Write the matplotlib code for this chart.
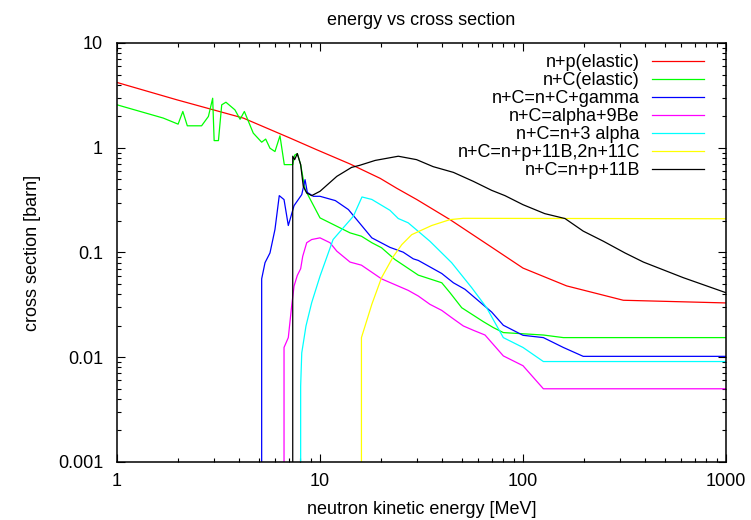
import matplotlib
matplotlib.use("Agg")
import matplotlib.pyplot as plt
from matplotlib.ticker import LogLocator, FixedLocator, FixedFormatter, NullFormatter

plt.rcParams['font.family'] = ['Liberation Sans', 'DejaVu Sans']

# ---- data ----
x_np = [1, 1.97, 4.19, 7.1, 9.6, 14.06, 19.8, 23.9, 30, 43.7, 68.8, 100, 164, 312, 1000]
y_np = [4.2, 2.87, 1.92, 1.24, 0.96, 0.70, 0.51, 0.41, 0.32, 0.206, 0.115, 0.071, 0.048, 0.035, 0.033]

x_cel = [1, 1.69, 2.0, 2.11, 2.22, 2.61, 2.82, 2.96, 3.01, 3.16, 3.28, 3.44, 3.81, 4.04, 4.24,
         4.69, 5.16, 5.4, 5.67, 6.0, 6.35, 6.67, 7.34, 7.5, 7.73, 8.03, 8.44, 10, 14.06, 16, 18,
         20.1, 23.4, 30.5, 39.8, 43.7, 49.9, 63.7, 71.4, 80, 126, 158, 1000]
y_cel = [2.57, 1.92, 1.68, 2.22, 1.62, 1.62, 1.99, 2.97, 1.17, 1.17, 2.57, 2.72, 2.30, 1.87, 2.22,
         1.38, 1.13, 1.21, 0.99, 0.92, 1.30, 0.69, 0.69, 0.85, 0.88, 0.69, 0.40, 0.214, 0.154, 0.143, 0.124,
         0.111, 0.0857, 0.0608, 0.0514, 0.0413, 0.0297, 0.0219, 0.0192, 0.0172, 0.0163, 0.0154, 0.0154]

x_gam = [5.16, 5.16, 5.36, 5.67, 6.0, 6.3, 6.65, 6.98, 7.45, 8.13, 8.44, 8.66, 9.27, 10, 11.9, 13.8,
         18, 22.1, 25.7, 28.8, 30.5, 39.8, 45.4, 51.8, 70.1, 80, 100, 126, 158, 198, 1000]
y_gam = [1e-6, 0.056, 0.080, 0.099, 0.166, 0.349, 0.32, 0.181, 0.28, 0.357, 0.496, 0.375, 0.344, 0.344,
         0.313, 0.257, 0.138, 0.112, 0.1007, 0.087, 0.084, 0.063, 0.0514, 0.0445, 0.027, 0.0202, 0.0162,
         0.0154, 0.0124, 0.0102, 0.0102]

x_a9be = [6.65, 6.65, 6.98, 7.25, 7.45, 7.73, 8.03, 8.22, 8.6, 9.1, 10, 11.2, 12.1, 14.06, 16, 20.1,
          27.2, 30.5, 34.8, 39.8, 44.5, 50.8, 56.9, 65, 80, 100, 126, 1000]
y_a9be = [1e-6, 0.0124, 0.0154, 0.0308, 0.0478, 0.0604, 0.07, 0.092, 0.124, 0.133, 0.138, 0.124, 0.103,
          0.081, 0.0757, 0.056, 0.0435, 0.0384, 0.032, 0.028, 0.0239, 0.0199, 0.0181, 0.0163, 0.0103,
          0.0083, 0.005, 0.005]

x_3al = [8.03, 8.03, 8.13, 8.53, 9.1, 10, 11.6, 14.6, 16.1, 18, 22.1, 24.3, 27.2, 34.8, 44.5, 55.9,
         66.2, 80, 100, 126, 1000]
y_3al = [1e-6, 0.0053, 0.011, 0.0199, 0.0332, 0.0594, 0.133, 0.222, 0.339, 0.321, 0.253, 0.211, 0.192,
         0.128, 0.08, 0.0461, 0.0297, 0.0154, 0.0124, 0.0091, 0.0091]

x_b2n = [16, 16, 18, 20.1, 23, 25.3, 28.3, 35.5, 43.7, 50.8, 1000]
y_b2n = [1e-6, 0.0154, 0.032, 0.0575, 0.092, 0.119, 0.148, 0.181, 0.206, 0.212, 0.21]

x_npb = [7.34, 7.34, 7.5, 7.73, 8.03, 8.27, 8.6, 9.1, 10, 12.1, 14.3, 15.7, 18.7, 24.3, 29.9, 36.1,
         45.4, 56.9, 70.1, 81.5, 100, 128, 161, 198, 249, 318, 392, 616, 1000]
y_npb = [1e-6, 0.83, 0.77, 0.88, 0.69, 0.43, 0.37, 0.349, 0.384, 0.533, 0.649, 0.68, 0.757, 0.83,
         0.77, 0.66, 0.582, 0.478, 0.392, 0.349, 0.286, 0.235, 0.211, 0.16, 0.128, 0.099, 0.081, 0.0575, 0.0413]

labels = ["n+p(elastic)", "n+C(elastic)", "n+C=n+C+gamma", "n+C=alpha+9Be",
          "n+C=n+3 alpha", "n+C=n+p+11B,2n+11C", "n+C=n+p+11B"]
colors = ["#ff0000", "#00ff00", "#0000ff", "#ff00ff", "#00ffff", "#ffff00", "#000000"]

x_ticks = [1, 10, 100, 1000]
x_ticklabels = ["1", "10", "100", "1000"]
y_ticks = [0.001, 0.01, 0.1, 1, 10]
y_ticklabels = ["0.001", "0.01", "0.1", "1", "10"]

# ---- figure ----
W, H = 751, 520
fig = plt.figure(figsize=(W / 100, H / 100), dpi=100)
L, R, T, B = 117, 726, 43, 462
ax = fig.add_axes([L / W, (H - B) / H, (R - L) / W, (B - T) / H])

series = [(x_np, y_np), (x_cel, y_cel), (x_gam, y_gam), (x_a9be, y_a9be),
          (x_3al, y_3al), (x_b2n, y_b2n), (x_npb, y_npb)]
for (xs, ys), lab, col in zip(series, labels, colors):
    ax.plot(xs, ys, color=col, lw=0.9, label=lab)

ax.set_xscale('log')
ax.set_yscale('log')
ax.set_xlim(1, 1000)
ax.set_ylim(0.001, 10)

ax.xaxis.set_major_locator(FixedLocator(x_ticks))
ax.xaxis.set_major_formatter(FixedFormatter(x_ticklabels))
ax.yaxis.set_major_locator(FixedLocator(y_ticks))
ax.yaxis.set_major_formatter(FixedFormatter(y_ticklabels))
ax.xaxis.set_minor_locator(LogLocator(base=10, subs=range(2, 10), numticks=20))
ax.yaxis.set_minor_locator(LogLocator(base=10, subs=range(2, 10), numticks=20))
ax.xaxis.set_minor_formatter(NullFormatter())
ax.yaxis.set_minor_formatter(NullFormatter())

ax.tick_params(which='both', direction='in', top=True, right=True, labelsize=13, width=0.8)
ax.tick_params(which='major', length=6)
ax.tick_params(which='minor', length=3)
ax.tick_params(axis='y', which='major', pad=10)
ax.tick_params(axis='x', which='major', pad=8)
for s in ax.spines.values():
    s.set_linewidth(1.1)

ax.set_title("energy vs cross section", fontsize=13, pad=13)
ax.set_xlabel("neutron kinetic energy [MeV]", fontsize=13, labelpad=8)
ax.set_ylabel("cross section [barn]", fontsize=13, labelpad=12)

leg = ax.legend(loc='upper right', bbox_to_anchor=((704 - L) / (R - L), 1 - 11 / (B - T)),
                frameon=False, markerfirst=False, fontsize=13, borderpad=0, borderaxespad=0,
                labelspacing=0.06, handlelength=2.9, handletextpad=0.65)
for t in leg.get_texts():
    t.set_ha('right')

fig.savefig("out.png", dpi=100)
